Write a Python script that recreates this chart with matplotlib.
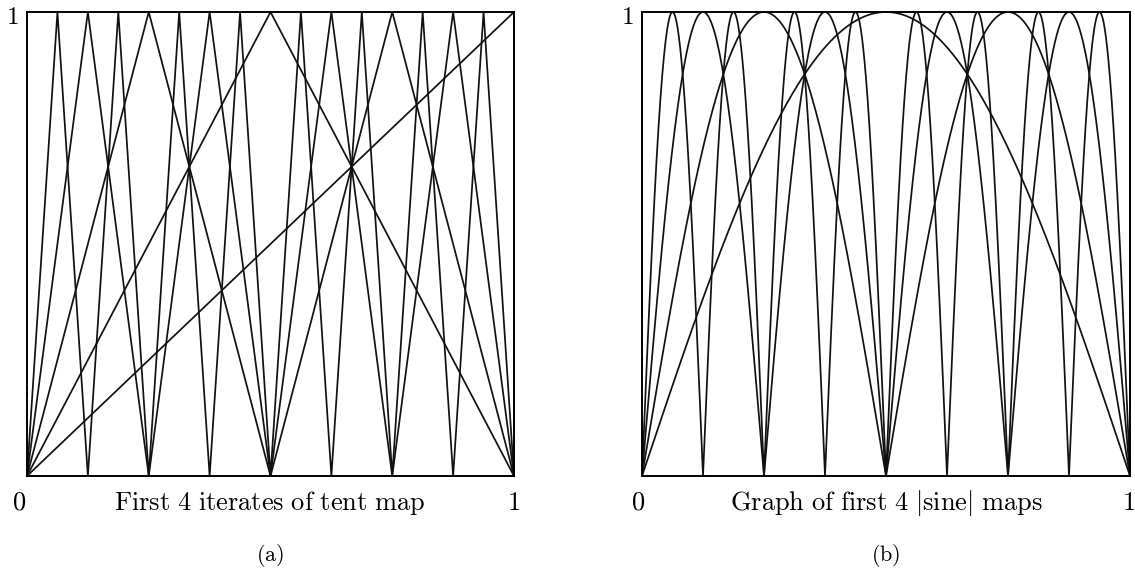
import numpy as np
import matplotlib
matplotlib.use("Agg")
import matplotlib.pyplot as plt

plt.rcParams["mathtext.fontset"] = "cm"

# teeth per iterate of the tent map: T, T^2, T^3, T^4
tent_teeth = [1, 2, 4, 8]
# frequencies of the |sin(k pi x)| curves
sine_freqs = [1, 2, 4, 8]

# identity line drawn under the tent iterates
diag_x = [0.0, 1.0]
diag_y = [0.0, 1.0]

panel_titles = [r"$\mathrm{First\ 4\ iterates\ of\ tent\ map}$",
                r"$\mathrm{Graph\ of\ first\ 4\ |sine|\ maps}$"]
panel_tags = [r"$\mathrm{(a)}$", r"$\mathrm{(b)}$"]

W, H = 1135, 572
fig = plt.figure(figsize=(W / 100, H / 100), dpi=100)


def px_axes(x0, y0, x1, y1):
    return fig.add_axes([x0 / W, 1 - y1 / H, (x1 - x0) / W, (y1 - y0) / H])


def label(x, y, s, size):
    # y is the text baseline in pixels from the top
    fig.text(x / W, 1 - y / H, s, ha="center", va="baseline", fontsize=size)


line_kw = dict(color="#111111", lw=1.25, solid_joinstyle="miter")

ax_a = px_axes(27, 12, 514, 476)
ax_b = px_axes(642, 12, 1130, 476)

# tent map iterates
ax_a.plot(diag_x, diag_y, **line_kw)
for n in tent_teeth:
    xs = np.linspace(0, 1, 2 * n + 1)
    ys = np.tile([0.0, 1.0], n + 1)[: 2 * n + 1]
    ax_a.plot(xs, ys, **line_kw)

# |sine| maps
xx = np.linspace(0, 1, 4001)
for k in sine_freqs:
    ax_b.plot(xx, np.abs(np.sin(k * np.pi * xx)), **line_kw)

for ax in (ax_a, ax_b):
    ax.set_xlim(0, 1)
    ax.set_ylim(0, 1)
    ax.set_xticks([])
    ax.set_yticks([])
    for sp in ax.spines.values():
        sp.set_linewidth(1.4)
        sp.set_color("black")

# corner labels and captions
label(12, 24, r"$1$", 18)
label(19, 510, r"$0$", 19)
label(514, 510, r"$1$", 19)
label(627, 24, r"$1$", 18)
label(638, 510, r"$0$", 19)
label(1129, 510, r"$1$", 19)

label(270, 510, panel_titles[0], 19)
label(886, 510, panel_titles[1], 19)
label(270, 561, panel_tags[0], 16)
label(886, 561, panel_tags[1], 16)

fig.savefig("out.png", dpi=100)
